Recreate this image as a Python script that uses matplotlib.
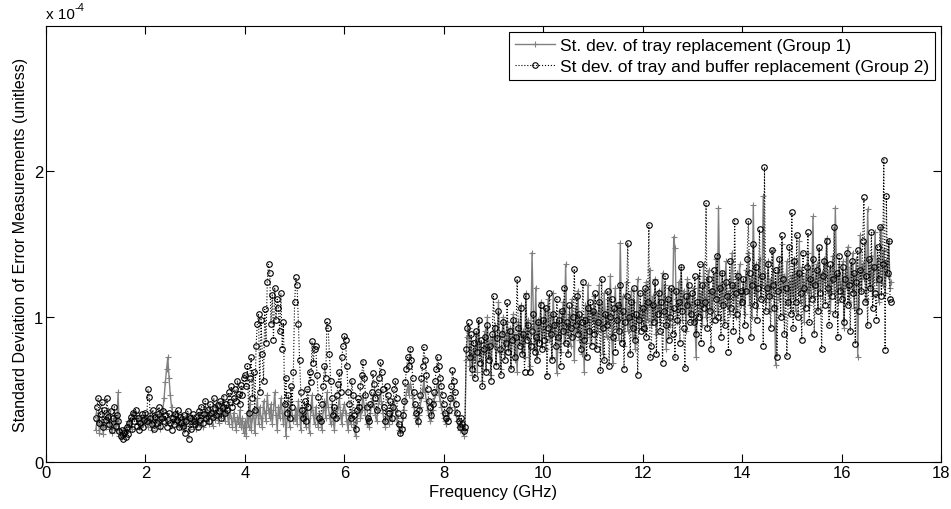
import numpy as np
import matplotlib
matplotlib.use("Agg")
import matplotlib.pyplot as plt

plt.rcParams["font.family"] = ["Liberation Sans", "DejaVu Sans"]
plt.rcParams["font.size"] = 12

# frequency grid, 1..17 GHz in 25 MHz steps
freq_ghz = np.round(np.arange(1.0, 17.0001, 0.025), 3)

# st. dev. of tray replacement (Group 1), units of 1e-4 -- two rows per GHz
std_group1 = [
    0.22, 0.28, 0.34, 0.20, 0.26, 0.31, 0.19, 0.27, 0.24, 0.30, 0.36, 0.23, 0.28, 0.20, 0.25, 0.32, 0.22, 0.27, 0.48, 0.18,
    0.20, 0.17, 0.22, 0.19, 0.24, 0.21, 0.28, 0.25, 0.30, 0.23, 0.34, 0.30, 0.34, 0.30, 0.26, 0.32, 0.24, 0.29, 0.27, 0.31,
    0.26, 0.31, 0.24, 0.29, 0.34, 0.22, 0.28, 0.32, 0.25, 0.30, 0.27, 0.33, 0.23, 0.29, 0.36, 0.44, 0.55, 0.64, 0.72, 0.58,
    0.46, 0.38, 0.32, 0.28, 0.34, 0.26, 0.31, 0.24, 0.29, 0.33, 0.27, 0.22, 0.30, 0.25, 0.32, 0.28, 0.23, 0.31, 0.26, 0.29,
    0.27, 0.23, 0.31, 0.26, 0.34, 0.29, 0.24, 0.32, 0.38, 0.28, 0.33, 0.26, 0.36, 0.30, 0.25, 0.34, 0.29, 0.40, 0.31, 0.27,
    0.35, 0.30, 0.42, 0.33, 0.28, 0.38, 0.32, 0.26, 0.36, 0.30, 0.24, 0.34, 0.28, 0.22, 0.31, 0.26, 0.36, 0.24, 0.30, 0.20,
    0.28, 0.18, 0.34, 0.24, 0.40, 0.22, 0.30, 0.36, 0.20, 0.32, 0.44, 0.26, 0.38, 0.30, 0.24, 0.42, 0.34, 0.28, 0.46, 0.36,
    0.30, 0.40, 0.26, 0.36, 0.48, 0.32, 0.22, 0.38, 0.30, 0.44, 0.34, 0.26, 0.40, 0.18, 0.30, 0.36, 0.24, 0.42, 0.32, 0.28,
    0.30, 0.36, 0.26, 0.42, 0.32, 0.22, 0.38, 0.28, 0.34, 0.24, 0.40, 0.30, 0.20, 0.36, 0.46, 0.32, 0.26, 0.38, 0.30, 0.24,
    0.34, 0.28, 0.22, 0.36, 0.42, 0.30, 0.48, 0.38, 0.32, 0.26, 0.40, 0.28, 0.22, 0.34, 0.30, 0.38, 0.44, 0.32, 0.26, 0.36,
    0.40, 0.34, 0.28, 0.22, 0.32, 0.26, 0.36, 0.30, 0.24, 0.18, 0.28, 0.34, 0.40, 0.30, 0.36, 0.46, 0.38, 0.32, 0.26, 0.30,
    0.24, 0.34, 0.40, 0.46, 0.38, 0.32, 0.28, 0.36, 0.42, 0.48, 0.40, 0.34, 0.28, 0.24, 0.36, 0.30, 0.26, 0.34, 0.28, 0.36,
    0.42, 0.36, 0.30, 0.26, 0.22, 0.20, 0.24, 0.30, 0.36, 0.42, 0.48, 0.52, 0.46, 0.54, 0.50, 0.44, 0.38, 0.32, 0.30, 0.26,
    0.32, 0.38, 0.44, 0.50, 0.56, 0.48, 0.42, 0.36, 0.32, 0.28, 0.30, 0.36, 0.42, 0.46, 0.50, 0.54, 0.48, 0.42, 0.38, 0.34,
    0.30, 0.28, 0.26, 0.30, 0.34, 0.38, 0.44, 0.48, 0.42, 0.36, 0.32, 0.28, 0.24, 0.22, 0.26, 0.22, 0.18, 0.22, 0.70, 0.86,
    0.92, 0.66, 0.84, 0.60, 0.78, 0.70, 0.88, 0.62, 0.96, 0.74, 0.82, 0.56, 0.76, 0.90, 0.64, 1.00, 0.72, 0.84, 0.60, 0.86,
    0.80, 0.94, 0.68, 0.86, 1.10, 0.76, 0.64, 0.90, 1.00, 0.74, 0.84, 0.96, 0.78, 0.92, 0.66, 0.88, 1.02, 0.70, 0.86, 0.62,
    0.96, 0.82, 1.08, 0.76, 0.90, 0.72, 1.16, 0.86, 0.98, 0.66, 0.82, 1.44, 1.04, 0.78, 1.20, 0.74, 0.98, 0.84, 1.10, 0.80,
    0.92, 1.06, 0.78, 0.98, 1.12, 0.84, 1.00, 0.72, 1.16, 0.90, 0.96, 0.61, 0.86, 1.04, 0.76, 0.94, 1.10, 0.82, 1.36, 0.92,
    0.88, 1.02, 0.80, 1.12, 0.96, 0.70, 1.06, 0.90, 1.18, 0.84, 1.00, 0.74, 0.94, 0.62, 1.08, 0.86, 1.22, 0.96, 0.82, 1.04,
    0.98, 1.14, 0.82, 1.02, 0.90, 1.22, 0.94, 1.06, 0.74, 1.16, 1.00, 0.86, 1.12, 0.96, 1.28, 0.88, 0.68, 1.04, 1.20, 0.92,
    1.08, 0.84, 1.51, 0.98, 1.14, 0.80, 1.02, 1.24, 0.90, 1.06, 0.94, 1.18, 0.86, 1.10, 0.78, 1.00, 1.26, 0.92, 1.08, 0.96,
    1.02, 1.16, 0.90, 1.24, 0.98, 1.10, 1.32, 0.94, 1.14, 1.00, 1.26, 0.88, 1.06, 1.18, 0.96, 1.12, 1.30, 1.00, 1.22, 0.78,
    1.08, 1.20, 0.94, 1.16, 1.04, 1.55, 1.47, 1.12, 0.96, 1.24, 1.06, 1.34, 0.98, 1.18, 1.08, 0.90, 1.26, 1.02, 1.14, 1.00,
    1.10, 1.20, 0.98, 0.72, 1.08, 1.28, 1.02, 1.16, 0.94, 1.36, 1.12, 1.00, 1.24, 1.32, 1.06, 1.18, 0.96, 1.28, 1.14, 1.40,
    1.04, 1.75, 1.22, 1.10, 1.30, 0.98, 1.20, 1.38, 1.08, 1.16, 1.02, 1.26, 1.44, 1.12, 1.22, 1.00, 1.30, 1.18, 1.36, 1.08,
    1.12, 1.24, 1.02, 1.32, 1.18, 1.44, 1.08, 1.26, 1.00, 1.77, 1.16, 1.36, 1.06, 1.28, 1.40, 1.14, 1.22, 1.83, 1.30, 1.10,
    1.20, 1.38, 1.04, 1.26, 1.14, 1.46, 1.08, 0.67, 1.24, 1.34, 1.12, 1.20, 1.50, 1.02, 1.28, 1.16, 1.38, 1.10, 1.24, 1.06,
    1.28, 1.14, 1.40, 1.04, 1.30, 1.20, 1.52, 1.10, 1.34, 1.24, 0.96, 1.30, 1.18, 1.44, 1.08, 1.32, 1.22, 1.69, 1.14, 1.26,
    1.36, 1.06, 1.46, 1.20, 1.30, 1.12, 1.40, 1.24, 1.54, 1.16, 1.32, 1.04, 1.26, 1.42, 1.18, 1.75, 1.28, 1.10, 1.36, 1.22,
    1.16, 1.38, 0.92, 1.30, 1.20, 1.48, 1.10, 1.34, 1.24, 1.44, 1.06, 1.28, 1.40, 0.72, 1.22, 1.56, 1.18, 1.36, 1.26, 1.50,
    1.12, 1.74, 1.30, 1.20, 1.42, 1.14, 1.34, 1.58, 1.24, 1.40, 1.10, 1.32, 1.62, 1.22, 1.46, 1.16, 1.38, 1.28, 1.52, 1.20,
    1.24,
]

# st. dev. of tray and buffer replacement (Group 2), units of 1e-4
std_group2 = [
    0.30, 0.38, 0.44, 0.27, 0.33, 0.41, 0.24, 0.36, 0.29, 0.44, 0.31, 0.26, 0.35, 0.22, 0.30, 0.38, 0.25, 0.32, 0.28, 0.21,
    0.18, 0.22, 0.16, 0.20, 0.17, 0.24, 0.19, 0.27, 0.31, 0.23, 0.34, 0.28, 0.36, 0.25, 0.30, 0.22, 0.27, 0.33, 0.24, 0.29,
    0.34, 0.28, 0.50, 0.45, 0.30, 0.26, 0.36, 0.23, 0.31, 0.27, 0.33, 0.38, 0.25, 0.30, 0.35, 0.28, 0.32, 0.24, 0.29, 0.34,
    0.27, 0.22, 0.30, 0.26, 0.33, 0.29, 0.36, 0.24, 0.31, 0.27, 0.25, 0.32, 0.20, 0.28, 0.35, 0.16, 0.30, 0.23, 0.33, 0.28,
    0.26, 0.31, 0.24, 0.35, 0.29, 0.38, 0.27, 0.33, 0.42, 0.30, 0.36, 0.28, 0.40, 0.34, 0.31, 0.44, 0.37, 0.32, 0.39, 0.35,
    0.42, 0.30, 0.38, 0.45, 0.34, 0.40, 0.36, 0.48, 0.41, 0.52, 0.38, 0.44, 0.50, 0.42, 0.56, 0.47, 0.40, 0.53, 0.46, 0.58,
    0.60, 0.52, 0.66, 0.34, 0.58, 0.72, 0.44, 0.62, 0.36, 0.80, 0.95, 1.02, 0.48, 0.98, 0.74, 0.56, 1.05, 0.82, 1.24, 1.36,
    1.30, 0.95, 1.15, 0.84, 1.20, 0.98, 1.12, 1.06, 0.90, 1.16, 0.78, 0.96, 0.40, 0.58, 0.34, 0.46, 0.30, 0.52, 0.38, 0.62,
    1.10, 1.27, 1.22, 0.95, 0.70, 0.48, 0.36, 0.30, 0.42, 0.28, 0.50, 0.38, 0.62, 0.55, 0.83, 0.68, 0.78, 0.80, 0.60, 0.45,
    0.30, 0.28, 0.40, 0.52, 0.66, 0.58, 0.97, 0.92, 0.74, 0.56, 0.44, 0.32, 0.38, 0.30, 0.46, 0.54, 0.62, 0.48, 0.72, 0.80,
    0.87, 0.84, 0.66, 0.48, 0.40, 0.30, 0.56, 0.46, 0.32, 0.23, 0.36, 0.44, 0.38, 0.52, 0.60, 0.69, 0.58, 0.46, 0.38, 0.30,
    0.28, 0.40, 0.48, 0.61, 0.54, 0.44, 0.36, 0.48, 0.58, 0.69, 0.62, 0.50, 0.38, 0.28, 0.52, 0.46, 0.34, 0.42, 0.30, 0.38,
    0.50, 0.56, 0.44, 0.34, 0.26, 0.20, 0.23, 0.32, 0.42, 0.55, 0.64, 0.72, 0.66, 0.78, 0.70, 0.58, 0.48, 0.40, 0.34, 0.28,
    0.36, 0.46, 0.58, 0.66, 0.79, 0.70, 0.60, 0.50, 0.42, 0.38, 0.32, 0.40, 0.48, 0.56, 0.64, 0.72, 0.66, 0.58, 0.52, 0.46,
    0.40, 0.34, 0.30, 0.28, 0.36, 0.44, 0.52, 0.63, 0.56, 0.48, 0.40, 0.34, 0.28, 0.24, 0.30, 0.26, 0.21, 0.24, 0.78, 0.92,
    0.96, 0.72, 0.88, 0.64, 0.82, 0.58, 0.90, 0.76, 0.98, 0.68, 0.84, 0.52, 0.78, 0.86, 0.62, 0.94, 0.70, 0.80, 0.56, 0.88,
    1.14, 0.92, 0.66, 0.85, 1.04, 0.78, 0.60, 0.88, 0.96, 0.70, 0.82, 1.10, 0.76, 0.90, 0.64, 0.84, 0.98, 0.72, 0.86, 1.26,
    0.92, 0.80, 1.06, 0.74, 0.88, 0.62, 1.14, 0.84, 0.94, 0.62, 0.80, 0.90, 1.02, 0.76, 0.86, 0.70, 0.96, 0.82, 1.08, 0.78,
    0.98, 0.84, 1.06, 0.59, 0.92, 1.16, 0.88, 0.70, 1.02, 0.94, 0.80, 1.12, 0.86, 0.98, 0.66, 1.04, 0.90, 1.20, 0.82, 0.96,
    0.74, 1.08, 0.92, 0.86, 1.00, 1.33, 0.94, 1.14, 0.88, 1.02, 0.78, 0.96, 1.24, 0.84, 0.98, 0.72, 1.06, 0.90, 1.10, 0.80,
    1.04, 0.88, 1.16, 0.78, 0.96, 1.10, 0.63, 1.26, 0.92, 0.70, 1.02, 0.94, 1.18, 0.66, 1.00, 1.12, 0.86, 1.06, 0.76, 0.98,
    1.08, 0.90, 1.22, 0.82, 1.04, 0.64, 0.96, 1.14, 1.51, 1.00, 0.74, 1.10, 0.92, 1.20, 0.84, 1.02, 0.60, 0.98, 1.16, 0.90,
    1.06, 0.92, 1.20, 0.86, 1.10, 1.63, 0.72, 0.80, 1.08, 0.96, 1.24, 0.74, 1.02, 1.16, 0.90, 1.10, 0.68, 1.04, 1.28, 0.94,
    1.12, 0.84, 1.00, 1.20, 0.88, 1.06, 0.72, 1.18, 0.98, 1.10, 0.82, 1.34, 1.04, 0.92, 0.65, 1.14, 1.08, 1.22, 0.96, 1.02,
    1.16, 0.96, 1.28, 0.88, 1.10, 1.00, 1.36, 0.82, 1.22, 1.06, 1.10, 1.78, 0.92, 1.26, 1.04, 0.78, 1.18, 1.32, 0.98, 1.12,
    1.42, 1.00, 1.20, 0.86, 1.30, 1.08, 0.94, 1.24, 1.14, 0.76, 1.38, 1.06, 1.22, 0.90, 1.66, 1.16, 1.02, 1.28, 0.84, 1.18,
    1.10, 1.26, 0.94, 1.18, 1.40, 1.66, 1.30, 0.86, 1.22, 1.50, 1.08, 1.34, 0.98, 1.20, 1.60, 1.12, 1.28, 0.80, 2.03, 1.04,
    1.20, 1.36, 1.14, 0.92, 1.46, 1.22, 1.06, 1.32, 0.72, 1.18, 1.40, 1.00, 1.56, 1.26, 0.88, 1.20, 0.73, 1.10, 1.48, 1.02,
    1.72, 0.92, 1.38, 1.10, 1.56, 1.00, 1.30, 1.16, 0.84, 1.44, 1.20, 1.06, 1.34, 1.58, 0.96, 1.26, 1.12, 1.40, 0.88, 1.22,
    1.32, 1.04, 1.48, 1.16, 0.78, 1.28, 1.38, 1.08, 1.52, 1.20, 0.94, 1.36, 1.14, 1.26, 1.62, 1.02, 1.30, 0.86, 1.42, 1.18,
    1.12, 1.34, 0.96, 1.26, 1.44, 1.08, 1.22, 0.90, 1.38, 1.16, 1.30, 0.81, 1.24, 1.46, 1.04, 1.32, 1.18, 1.52, 1.82, 1.10,
    1.28, 0.94, 1.40, 1.20, 1.58, 1.06, 1.34, 1.16, 0.98, 1.48, 1.26, 1.62, 1.14, 1.36, 2.08, 0.77, 1.83, 1.30, 1.52, 1.12,
    1.10,
]

assert len(std_group1) == len(freq_ghz) == len(std_group2)

x_ticks = [0, 2, 4, 6, 8, 10, 12, 14, 16, 18]
y_ticks = [0, 1, 2]

fig = plt.figure(figsize=(9.51, 5.10), dpi=100)
ax = fig.add_axes([46 / 951, 47 / 510, 895 / 951, 436 / 510])

ax.plot(freq_ghz, std_group1, color="#808080", lw=1.0, marker="+", ms=5, mew=0.8,
        label="St. dev. of tray replacement (Group 1)")
ax.plot(freq_ghz, std_group2, color="black", lw=0.8, ls=":", marker="o", ms=4,
        mfc="none", mew=0.8, label="St dev. of tray and buffer replacement (Group 2)")

ax.set_xlim(0, 18)
ax.set_ylim(0, 3)
ax.set_xticks(x_ticks)
ax.set_yticks(y_ticks)
ax.tick_params(direction="in", length=6, width=0.8, top=True, right=True, labelsize=12, pad=2)
for s in ax.spines.values():
    s.set_linewidth(0.8)

ax.set_xlabel("Frequency (GHz)", fontsize=12, labelpad=3)
ax.set_ylabel("Standard Deviation of Error Measurements (unitless)", fontsize=11.5, labelpad=4)

# exponent note above the y axis, MATLAB style with a plain hyphen
ax.text(0.0, 1.012, "x 10", transform=ax.transAxes, fontsize=11, ha="left", va="bottom")
ax.annotate("-4", xy=(0.0, 1.012), xycoords="axes fraction", xytext=(20.5, 6),
            textcoords="offset points", fontsize=8, ha="left", va="bottom")

leg = ax.legend(loc="upper right", fontsize=12.5, handlelength=2.3, numpoints=1,
                fancybox=False, framealpha=1, edgecolor="black",
                borderaxespad=0.35, borderpad=0.35, labelspacing=0.3, handletextpad=0.3)
leg.get_frame().set_linewidth(0.8)

fig.savefig("out.png", dpi=100)
